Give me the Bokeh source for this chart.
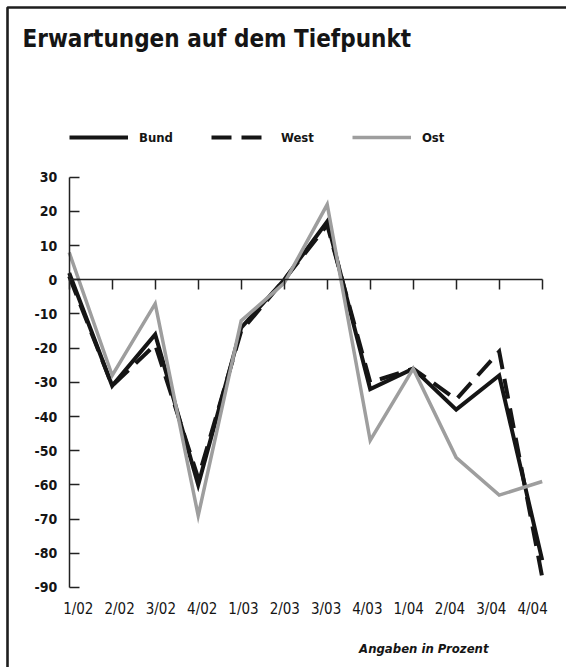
from bokeh.plotting import figure
from bokeh.models import Range1d, LinearAxis, FixedTicker, Legend, LegendItem, Label, BoxAnnotation
from bokeh.embed import file_html
from bokeh.resources import INLINE

# ---- data ----
quarters = ["1/02", "2/02", "3/02", "4/02", "1/03", "2/03", "3/03", "4/03",
            "1/04", "2/04", "3/04", "4/04"]
bund = [2, -31, -16, -60, -14, 0, 17, -32, -26, -38, -28, -82]
west = [1, -31, -19, -58, -15, 0, 16, -30, -26, -35, -21, -87]
ost = [8, -28, -7, -69, -12, -1, 22, -47, -26, -52, -63, -59]
y_ticks = list(range(-90, 31, 10))
series_names = ["Bund", "West", "Ost"]
title_text = "Erwartungen auf dem Tiefpunkt"
note_text = "Angaben in Prozent"

x_idx = list(range(len(quarters)))
FONT = "DejaVu Sans Condensed, Roboto Condensed, Liberation Sans Narrow, Roboto, sans-serif"
INK = "#151515"
GRAY = "#9e9e9e"
AX = "#222222"

W, H = 566, 667
p = figure(width=W, height=H, output_backend="svg", toolbar_location=None,
           x_range=Range1d(-1.5977, 11.565), y_range=Range1d(-113.41, 81.68),
           x_axis_location=None, y_axis_location=None, min_border=0)
p.outline_line_color = None
p.grid.visible = False
p.background_fill_color = "white"
p.border_fill_color = "white"

# frame lines of the graphic (left and top only; right/bottom edges lie off the canvas)
p.add_layout(BoxAnnotation(left=7, right=W + 20, top=H - 7, bottom=-20,
                           left_units="screen", right_units="screen",
                           top_units="screen", bottom_units="screen",
                           fill_alpha=0, line_color="#1e1e1e", line_width=2.6,
                           line_alpha=1))

# lines
r_bund = p.line(x_idx, bund, line_color=INK, line_width=4, line_join="miter")
r_west = p.line(x_idx, west, line_color=INK, line_width=4, line_dash="20 10", line_join="miter")
r_ost = p.line(x_idx, ost, line_color=GRAY, line_width=3.5, line_join="miter")

# y axis (at the first quarter)
yaxis = LinearAxis(fixed_location=0, bounds=(y_ticks[0], y_ticks[-1]),
                   ticker=FixedTicker(ticks=y_ticks),
                   major_label_overrides={t: str(t) for t in y_ticks},
                   major_tick_in=10, major_tick_out=0, minor_tick_line_color=None,
                   axis_line_width=1.5, axis_line_color=AX,
                   major_tick_line_width=1.5, major_tick_line_color=AX,
                   major_label_standoff=12, major_label_text_font=FONT,
                   major_label_text_font_style="bold", major_label_text_font_size="14px",
                   major_label_text_color=INK)
p.add_layout(yaxis, "left")

# zero line with hanging ticks
zaxis = LinearAxis(fixed_location=0, bounds=(0, len(quarters) - 1),
                   ticker=FixedTicker(ticks=x_idx),
                   major_label_overrides={i: "" for i in x_idx},
                   major_tick_in=0, major_tick_out=10, minor_tick_line_color=None,
                   axis_line_width=1.5, axis_line_color=AX,
                   major_tick_line_width=1.5, major_tick_line_color=AX)
p.add_layout(zaxis, "below")

# quarter labels under the chart
p.extra_x_ranges = {"lab": Range1d(-1.8838, 11.821)}
laxis = LinearAxis(x_range_name="lab", fixed_location=y_ticks[0],
                   ticker=FixedTicker(ticks=x_idx),
                   major_label_overrides={i: q for i, q in enumerate(quarters)},
                   axis_line_color=None, major_tick_line_color=None, minor_tick_line_color=None,
                   major_tick_in=0, major_tick_out=0,
                   major_label_standoff=13, major_label_text_font=FONT,
                   major_label_text_font_size="15px", major_label_text_color=INK)
p.add_layout(laxis, "below")

# legend
legend = Legend(items=[LegendItem(label=series_names[0], renderers=[r_bund]),
                       LegendItem(label=series_names[1], renderers=[r_west]),
                       LegendItem(label=series_names[2], renderers=[r_ost])],
                orientation="horizontal", location=(69, H - 147),
                glyph_width=59, glyph_height=20, label_height=20, label_standoff=11,
                spacing=38, padding=0, margin=0, border_line_color=None,
                background_fill_alpha=0, label_text_font=FONT,
                label_text_font_style="bold", label_text_font_size="13px",
                label_text_color=INK)
p.add_layout(legend)

# title and note
p.add_layout(Label(x=22, y=H - 38, x_units="screen", y_units="screen", text=title_text,
                   text_font=FONT, text_font_style="bold", text_font_size="24px",
                   text_baseline="alphabetic", text_color=INK))
p.add_layout(Label(x=488, y=H - 648, x_units="screen", y_units="screen", text=note_text,
                   text_font=FONT, text_font_style="bold italic", text_font_size="13px",
                   text_align="right", text_baseline="alphabetic", text_color=INK))

open("out.html", "w").write(file_html(p, INLINE))
